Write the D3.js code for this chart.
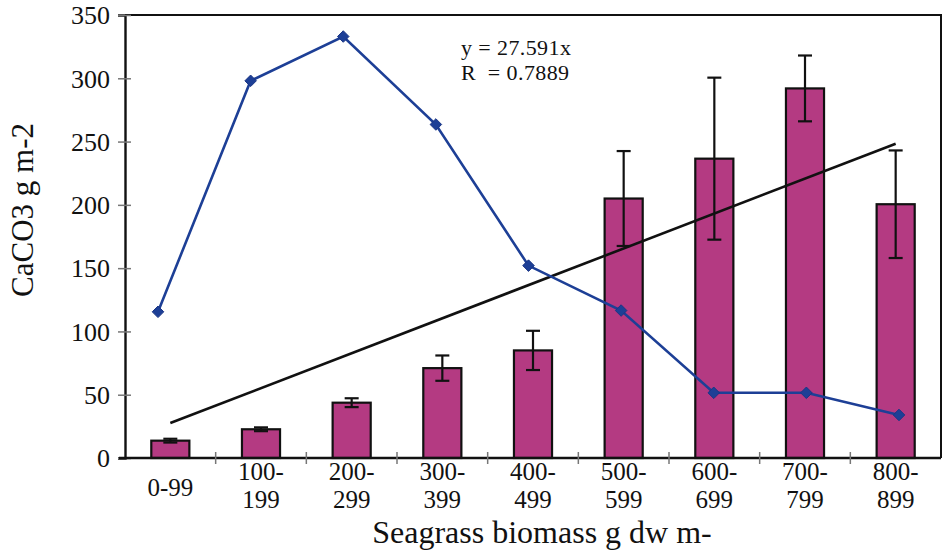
<!DOCTYPE html>
<html>
<head>
<meta charset="utf-8">
<script src="https://cdn.jsdelivr.net/npm/d3@7"></script>
<style>
    body { margin: 0; background: #fff; }
    text { font-family: "Liberation Serif", "Times New Roman", serif; fill: #111; }
</style>
</head>
<body>
<div id="chart"></div>
<script>
// Seagrass biomass classes (two-line labels as in the figure)
const categories = ['0-99', '100-199', '200-299', '300-399', '400-499', '500-599', '600-699', '700-799', '800-899'];
const tickLines = [['0-99'], ['100-', '199'], ['200-', '299'], ['300-', '399'], ['400-', '499'],
                   ['500-', '599'], ['600-', '699'], ['700-', '799'], ['800-', '899']];

// Mean CaCO3 (bars) and error half-widths
const barValues = [13.7, 22.7, 43.7, 71, 85, 205, 236.5, 292, 200.5];
const barErrors = [1.5, 1.5, 3.5, 10, 15.5, 37.5, 64, 26, 42.5];

// Blue series (diamonds)
const lineValues = [115.5, 298, 333, 263.5, 152, 116.5, 51.5, 51.5, 34];

// Linear trend through origin
const trendSlope = 27.591;
const trendLabel = ['y = 27.591x', 'R  = 0.7889'];

const yTicks = [0, 50, 100, 150, 200, 250, 300, 350];

const W = 943, H = 555;
const plot = { left: 125, right: 941, top: 15, bottom: 458 };

const svg = d3.select('#chart').append('svg')
    .attr('width', W)
    .attr('height', H);

const x = d3.scaleBand()
    .domain(categories)
    .range([plot.left, plot.right])
    .paddingInner(0.58)
    .paddingOuter(0.29);

// the diamond series sits on its own, slightly wider, category scale
const xLine = d3.scalePoint()
    .domain(categories)
    .range([158, 899]);

const y = d3.scaleLinear()
    .domain([0, 350])
    .range([plot.bottom, plot.top]);

const cx = c => x(c) + x.bandwidth() / 2;

// plot frame (top and right)
svg.append('path')
    .attr('d', `M${plot.left},${plot.top}H${plot.right}V${plot.bottom}`)
    .attr('fill', 'none')
    .attr('stroke', '#111')
    .attr('stroke-width', 2);

// bars
svg.selectAll('.bar')
    .data(barValues)
    .enter().append('rect')
    .attr('class', 'bar')
    .attr('x', (d, i) => x(categories[i]))
    .attr('y', d => y(d))
    .attr('width', x.bandwidth())
    .attr('height', d => y(0) - y(d))
    .attr('fill', '#b43a82')
    .attr('stroke', '#111')
    .attr('stroke-width', 2.2);

// error bars
const err = svg.append('g').attr('stroke', '#111').attr('stroke-width', 2.2);
barValues.forEach((v, i) => {
    const c = cx(categories[i]);
    const hi = y(v + barErrors[i]), lo = y(v - barErrors[i]);
    err.append('line').attr('x1', c).attr('x2', c).attr('y1', hi).attr('y2', lo);
    err.append('line').attr('x1', c - 7).attr('x2', c + 7).attr('y1', hi).attr('y2', hi);
    err.append('line').attr('x1', c - 7).attr('x2', c + 7).attr('y1', lo).attr('y2', lo);
});

// trend line
const first = 0, last = categories.length - 1;
svg.append('line')
    .attr('x1', cx(categories[first]))
    .attr('y1', y(trendSlope * (first + 1)))
    .attr('x2', cx(categories[last]))
    .attr('y2', y(trendSlope * (last + 1)))
    .attr('stroke', '#111')
    .attr('stroke-width', 2.6);

// blue series
const line = d3.line()
    .x((d, i) => xLine(categories[i]))
    .y(d => y(d));

svg.append('path')
    .datum(lineValues)
    .attr('d', line)
    .attr('fill', 'none')
    .attr('stroke', '#1d3f96')
    .attr('stroke-width', 2.6);

svg.selectAll('.dia')
    .data(lineValues)
    .enter().append('path')
    .attr('class', 'dia')
    .attr('d', d3.symbol().type(d3.symbolDiamond2).size(85))
    .attr('transform', (d, i) => `translate(${xLine(categories[i])},${y(d)})`)
    .attr('fill', '#1d3f96')
    .attr('stroke', '#1a3585')
    .attr('stroke-width', 1);

// y axis
const yAxis = svg.append('g')
    .attr('transform', `translate(${plot.left},0)`)
    .call(d3.axisLeft(y).tickValues(yTicks).tickSize(7).tickPadding(8));
yAxis.select('.domain').attr('stroke', '#111').attr('stroke-width', 2.4);
yAxis.selectAll('.tick line').attr('stroke', '#777').attr('stroke-width', 1.5).attr('x2', 6).attr('x1', -7);
yAxis.selectAll('.tick text')
    .style('font-family', '"Liberation Serif", serif')
    .style('font-size', '26px')
    .attr('fill', '#111')
    .attr('dy', '0.34em');

// x axis: boundary ticks between classes
const xAxis = svg.append('g');
xAxis.append('line')
    .attr('x1', plot.left - 6).attr('x2', plot.right)
    .attr('y1', plot.bottom).attr('y2', plot.bottom)
    .attr('stroke', '#111').attr('stroke-width', 2.4);
categories.slice(1).forEach(c => {
    const bx = x(c) - x.step() * x.paddingInner() / 2;
    xAxis.append('line')
        .attr('x1', bx).attr('x2', bx)
        .attr('y1', plot.bottom - 6).attr('y2', plot.bottom + 6)
        .attr('stroke', '#777').attr('stroke-width', 1.5);
});

// x tick labels
tickLines.forEach((lines, i) => {
    if (lines.length === 1) {
        svg.append('text')
            .attr('x', cx(categories[i]))
            .attr('y', 496)
            .attr('text-anchor', 'middle')
            .style('font-size', '25px')
            .text(lines[0]);
    } else {
        lines.forEach((s, k) => {
            svg.append('text')
                .attr('x', cx(categories[i]))
                .attr('y', 480 + k * 28)
                .attr('text-anchor', 'middle')
                .style('font-size', '25px')
                .text(s);
        });
    }
});

// axis titles
svg.append('text')
    .attr('x', 542)
    .attr('y', 543)
    .attr('text-anchor', 'middle')
    .style('font-size', '32px')
    .text('Seagrass biomass g dw m-');

svg.append('text')
    .attr('transform', 'translate(33,210) rotate(-90)')
    .attr('text-anchor', 'middle')
    .style('font-size', '31px')
    .text('CaCO3 g m-2');

// regression annotation
trendLabel.forEach((s, k) => {
    svg.append('text')
        .attr('x', 461)
        .attr('y', 55 + k * 25)
        .style('font-size', '22px')
        .style('letter-spacing', '0.4px')
        .style('white-space', 'pre')
        .text(s);
});
</script>
</body>
</html>
